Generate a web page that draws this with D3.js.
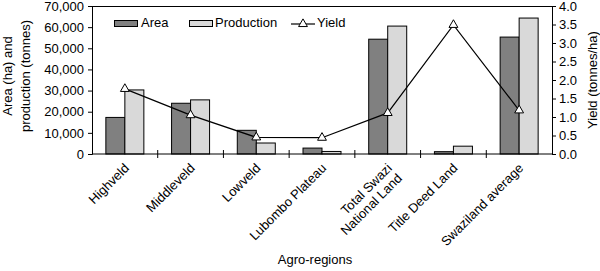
<!DOCTYPE html>
<html>
<head>
<meta charset="utf-8">
<script src="https://cdn.jsdelivr.net/npm/d3@7"></script>
<style>
  body { margin: 0; background: #fff; }
  svg { font-family: "Liberation Sans", Arial, sans-serif; }
  text { fill: #000; }
</style>
</head>
<body>
<svg id="chart" width="600" height="271"></svg>
<script>
const regions = [
  ['Highveld'],
  ['Middleveld'],
  ['Lowveld'],
  ['Lubombo Plateau'],
  ['Total Swazi', 'National Land'],
  ['Title Deed Land'],
  ['Swaziland average']
];
const area       = [17300, 24000, 11200, 2800, 54300, 1100, 55300];
const production = [30300, 25600, 5200, 1200, 60500, 3700, 64300];
const yieldVals  = [1.76, 1.05, 0.45, 0.44, 1.11, 3.49, 1.18];
const leftTicks  = [0, 10000, 20000, 30000, 40000, 50000, 60000, 70000];
const rightTicks = [0, 0.5, 1, 1.5, 2, 2.5, 3, 3.5, 4];

const
  margin = {top: 6, right: 48, bottom: 117, left: 92},
  W = 600, H = 271,
  width = W - margin.left - margin.right,
  height = H - margin.top - margin.bottom,
  svg = d3.select('#chart'),
  g = svg.append('g').attr('transform', `translate(${margin.left},${margin.top})`),
  keys = regions.map((d, i) => i),
  FS = 13
  ;

const x = d3.scaleBand().domain(keys).range([0, width]);
const y = d3.scaleLinear().domain([0, 70000]).range([height, 0]);
const y2 = d3.scaleLinear().domain([0, 4]).range([height, 0]);
const barW = 19;

// bars
const bars = [
  {vals: area, fill: '#808080', off: -barW},
  {vals: production, fill: '#d9d9d9', off: 0}
];
bars.forEach(s => {
  g.append('g').selectAll('rect')
    .data(s.vals)
    .join('rect')
    .attr('x', (d, i) => x(i) + x.bandwidth() / 2 + s.off)
    .attr('y', d => y(d))
    .attr('width', barW)
    .attr('height', d => height - y(d))
    .attr('fill', s.fill)
    .attr('stroke', '#000')
    .attr('stroke-width', 1);
});

// frame top
g.append('line')
  .attr('x1', 0).attr('x2', width).attr('y1', 0.5).attr('y2', 0.5)
  .attr('stroke', '#000');

// axes
const fmt = d3.format(',');
const axL = g.append('g')
  .call(d3.axisLeft(y).tickValues(leftTicks).tickFormat(fmt).tickSize(4).tickPadding(4));
const axR = g.append('g').attr('transform', `translate(${width},0)`)
  .call(d3.axisRight(y2).tickValues(rightTicks).tickFormat(d3.format('.1f')).tickSize(4).tickPadding(3));
[axL, axR].forEach(a => {
  a.select('.domain').attr('stroke', '#000');
  a.selectAll('text').attr('font-size', FS).attr('font-family', '"Liberation Sans", Arial, sans-serif').attr('fill', '#000');
});

// x axis
const axB = g.append('g').attr('transform', `translate(0,${height})`);
axB.append('line').attr('x1', 0).attr('x2', width).attr('stroke', '#000');
axB.selectAll('line.tk')
  .data(d3.range(1, regions.length))
  .join('line')
  .attr('class', 'tk')
  .attr('x1', d => d * x.step()).attr('x2', d => d * x.step())
  .attr('y1', -4).attr('y2', 4)
  .attr('stroke', '#000');
const labels = axB.selectAll('text.lab')
  .data(regions)
  .join('text')
  .attr('class', 'lab')
  .attr('font-size', FS)
  .attr('text-anchor', 'end')
  .attr('transform', (d, i) => `translate(${x(i) + x.bandwidth() / 2 + 5},${15}) rotate(-45)`);
labels.each(function(d) {
  d3.select(this).selectAll('tspan')
    .data(d)
    .join('tspan')
    .attr('x', 0)
    .attr('dy', (t, j) => j ? '1.1em' : 0)
    .text(t => t);
});

// yield line
const line = d3.line().x((d, i) => x(i) + x.bandwidth() / 2).y(d => y2(d));
g.append('path')
  .datum(yieldVals)
  .attr('d', line)
  .attr('fill', 'none')
  .attr('stroke', '#000')
  .attr('stroke-width', 1.2);
const tri = d3.symbol().type(d3.symbolTriangle).size(34);
g.append('g').selectAll('path')
  .data(yieldVals)
  .join('path')
  .attr('d', tri)
  .attr('transform', (d, i) => `translate(${x(i) + x.bandwidth() / 2},${y2(d)})`)
  .attr('fill', '#fff')
  .attr('stroke', '#000');

// legend
const leg = svg.append('g').attr('font-size', FS);
leg.append('rect').attr('x', 114.5).attr('y', 20.5).attr('width', 23).attr('height', 6)
  .attr('fill', '#808080').attr('stroke', '#000');
leg.append('text').attr('x', 141).attr('y', 27).text('Area');
leg.append('rect').attr('x', 189.5).attr('y', 20.5).attr('width', 23).attr('height', 6)
  .attr('fill', '#d9d9d9').attr('stroke', '#000');
leg.append('text').attr('x', 215).attr('y', 27).text('Production');
leg.append('line').attr('x1', 291).attr('x2', 315).attr('y1', 24).attr('y2', 24).attr('stroke', '#000').attr('stroke-width', 1.2);
leg.append('path').attr('d', tri).attr('transform', 'translate(303,24)').attr('fill', '#fff').attr('stroke', '#000');
leg.append('text').attr('x', 317).attr('y', 27).text('Yield');

// titles
const ttl = svg.append('g').attr('font-size', FS);
ttl.append('text')
  .attr('text-anchor', 'middle')
  .attr('transform', 'translate(12,76) rotate(-90)')
  .selectAll('tspan')
  .data(['Area (ha) and', 'production (tonnes)'])
  .join('tspan')
  .attr('x', 0)
  .attr('dy', (t, j) => j ? '1.4em' : 0)
  .text(t => t);
ttl.append('text')
  .attr('text-anchor', 'middle')
  .attr('transform', 'translate(597,80) rotate(-90)')
  .text('Yield (tonnes/ha)');
ttl.append('text')
  .attr('text-anchor', 'middle')
  .attr('x', 315).attr('y', 264)
  .text('Agro-regions');
</script>
</body>
</html>
